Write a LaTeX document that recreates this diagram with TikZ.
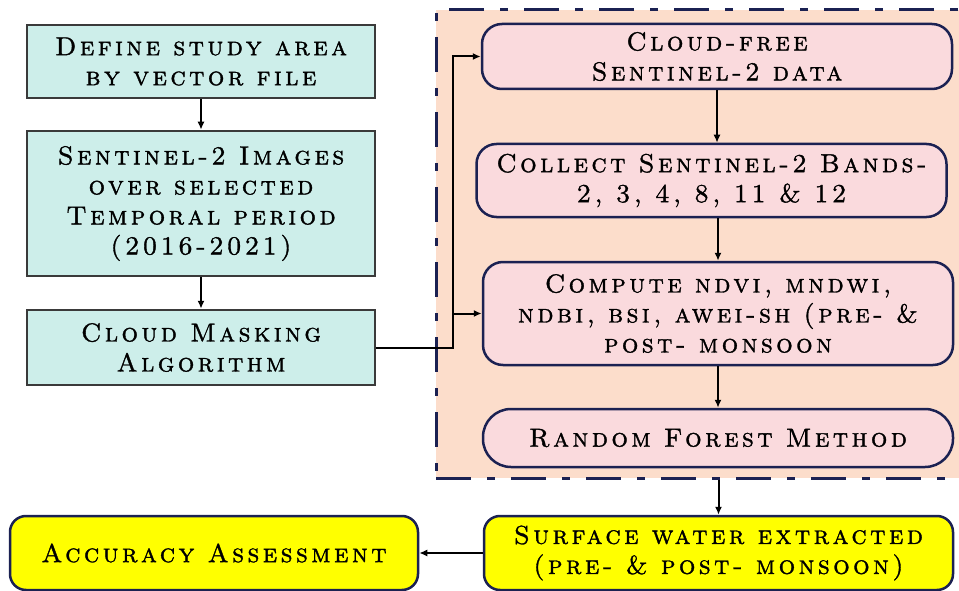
\documentclass[tikz,border=0pt]{standalone}
\usepackage{fontspec}
\setmainfont{lmroman10-regular.otf}[SmallCapsFont=lmromancaps10-regular.otf, LetterSpace=13, SmallCapsFeatures={LetterSpace=13, FakeBold=1.3}]
\usetikzlibrary{arrows.meta,calc}
\definecolor{tealfill}{HTML}{CDEEEA}
\definecolor{pinkfill}{HTML}{FADADD}
\definecolor{peach}{HTML}{FCDDCB}
\definecolor{navy}{HTML}{1B2152}
\definecolor{grayline}{HTML}{3A3A3A}
\definecolor{yel}{HTML}{FFFF00}
\tikzset{
  txt/.style={align=center, font=\fontsize{26}{30}\selectfont\scshape, inner sep=0pt},
  tealbox/.style={txt, draw=grayline, line width=2.5pt, fill=tealfill, minimum width=348pt},
  pinkbox/.style={txt, draw=navy, line width=2.5pt, fill=pinkfill, rounded corners=20pt, minimum width=470pt},
  yelbox/.style={txt, draw=navy, line width=2.5pt, fill=yel, rounded corners=16pt, minimum height=74pt},
  arr/.style={line width=2pt, -{Latex[length=8pt,width=7pt]}},
  cont/.style={draw=navy, fill=peach, line width=3pt, dash pattern=on 35pt off 16pt on 8pt off 16pt}
}
\begin{document}
\begin{tikzpicture}[x=1pt,y=-1pt]
\useasboundingbox (0,0) rectangle (959,591);
\fill[white] (0,0) rectangle (959,591);
% container
\node[cont, minimum width=540pt, minimum height=468pt, inner sep=0pt] (cont) at (706,244) {};
% left column
\node[tealbox, minimum height=73pt] (A) at (201,61.5) {Define study area\\by vector file};
\node[tealbox, minimum height=145pt] (B) at (201,203.5) {Sentinel-2 Images\\over selected\\Temporal period\\(2016-2021)};
\node[tealbox, minimum height=75pt] (C) at (201,347.5) {Cloud Masking\\Algorithm};
% right column
\node[pinkbox, minimum height=65pt] (D) at (717,56.5) {Cloud-free\\Sentinel-2 data};
\node[pinkbox, minimum height=73pt] (E) at (711.5,180.5) {Collect Sentinel-2 Bands-\\2, 3, 4, 8, 11 \& 12};
\node[pinkbox, minimum height=103pt] (F) at (718,313.5) {Compute ndvi, mndwi,\\ndbi, bsi, awei-sh (pre- \&\\post- monsoon};
\node[pinkbox, minimum height=58pt, rounded corners=28pt] (G) at (718,438) {Random Forest Method};
% bottom
\node[yelbox, minimum width=469pt] (H) at (718.5,553) {Surface water extracted\\(pre- \& post- monsoon)};
\node[yelbox, minimum width=408pt] (I) at (214,553) {Accuracy Assessment};
% connectors
\draw[arr] (A) -- (B);
\draw[arr] (B) -- (C);
\coordinate (jx) at (453,0);
\draw[arr] (C.east) -| (jx |- D.west) -- (D.west);
\draw[arr] (jx |- F.west) -- (F.west);
\draw[arr] (D.south) -- (D.south |- E.north);
\draw[arr] (F.north |- E.south) -- (F.north);
\draw[arr] (F) -- (G);
\draw[arr] (H.north |- cont.south) -- (H.north);
\draw[arr] (H) -- (I);
\end{tikzpicture}
\end{document}
